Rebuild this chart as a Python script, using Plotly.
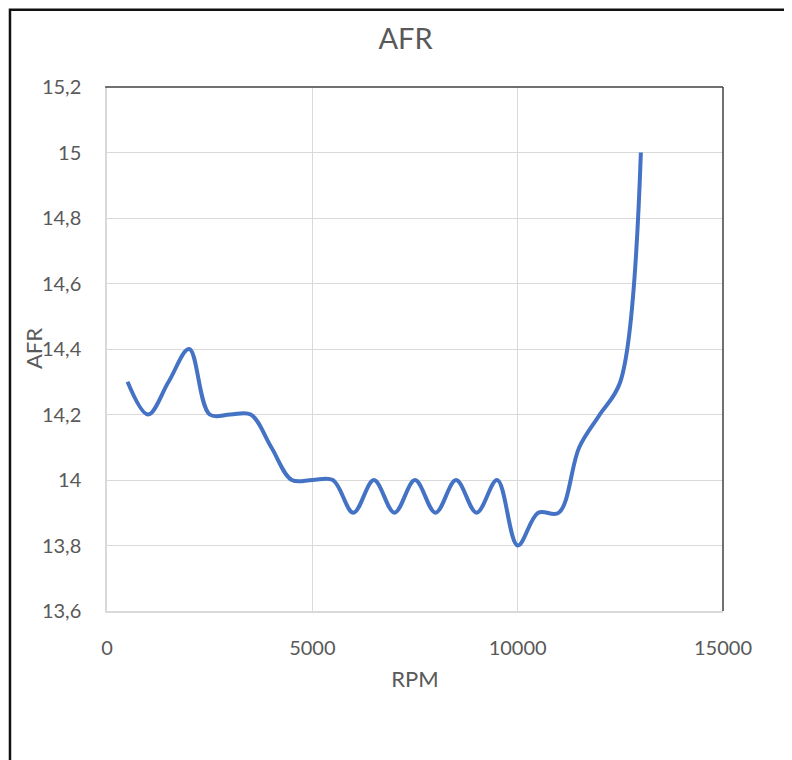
import plotly.graph_objects as go

rpm = [500, 1000, 1500, 2000, 2500, 3000, 3500, 4000, 4500, 5000, 5500, 6000, 6500,
       7000, 7500, 8000, 8500, 9000, 9500, 10000, 10500, 11000, 11500, 12000, 12500, 13000]
afr = [14.3, 14.2, 14.3, 14.4, 14.2, 14.2, 14.2, 14.1, 14.0, 14.0, 14.0, 13.9, 14.0,
       13.9, 14.0, 13.9, 14.0, 13.9, 14.0, 13.8, 13.9, 13.9, 14.1, 14.2, 14.3, 15.0]

x_tick_vals = [0, 5000, 10000, 15000]
x_tick_text = ["0", "5000", "10000", "15000"]
y_tick_vals = [13.6, 13.8, 14.0, 14.2, 14.4, 14.6, 14.8, 15.0, 15.2]
y_tick_text = ["13,6", "13,8", "14", "14,2", "14,4", "14,6", "14,8", "15", "15,2"]

TXT = "#595959"
GRID = "#d9d9d9"
FONT = "Lato"

fig = go.Figure()
fig.add_trace(go.Scatter(
    x=rpm, y=afr, mode="lines",
    line=dict(color="#4472C4", width=4, shape="spline", smoothing=1.0),
    showlegend=False, hoverinfo="x+y",
))

fig.update_layout(
    width=784, height=752,
    margin=dict(l=99, r=69, t=79, b=149, autoexpand=False),
    paper_bgcolor="white", plot_bgcolor="white",
    font=dict(family=FONT, color=TXT, size=20),
    title=dict(text="AFR", x=0.507, xanchor="center", y=1 - 31 / 752, yanchor="middle",
               font=dict(family=FONT, size=29, color=TXT)),
    showlegend=False,
)

fig.update_xaxes(
    range=[0, 15000], tickvals=x_tick_vals, ticktext=x_tick_text,
    showgrid=True, gridcolor=GRID, gridwidth=1.3,
    showline=True, linecolor=GRID, linewidth=1.5, zeroline=False,
    ticks="", ticklabelstandoff=18,
    tickfont=dict(family=FONT, size=20, color=TXT),
    title=dict(text="RPM", font=dict(family=FONT, size=22, color=TXT), standoff=14),
)
fig.update_yaxes(
    range=[13.6, 15.2], tickvals=y_tick_vals, ticktext=y_tick_text,
    showgrid=True, gridcolor=GRID, gridwidth=1.3,
    showline=True, linecolor=GRID, linewidth=1.5, zeroline=False,
    ticks="", ticklabelstandoff=20,
    tickfont=dict(family=FONT, size=20, color=TXT),
)

# y-axis title placed so it overlaps tick labels as in the reference
fig.add_annotation(text="AFR", xref="paper", yref="paper", x=-0.120, y=0.5,
                   xanchor="center", yanchor="middle", textangle=-90, showarrow=False,
                   font=dict(family=FONT, size=22, color=TXT))

# plot-area border (top and right, dark)
fig.add_shape(type="line", xref="paper", yref="paper", x0=-0.003, x1=1, y0=1, y1=1,
              line=dict(color="#404040", width=1.5), layer="above")
fig.add_shape(type="line", xref="paper", yref="paper", x0=1, x1=1, y0=0, y1=1,
              line=dict(color="#404040", width=1.5), layer="above")

# outer chart frame (right and bottom edges fall outside the view)
fig.add_shape(type="rect", xref="paper", yref="paper",
              x0=-0.1575, x1=1.3, y0=-0.4, y1=1.1475,
              line=dict(color="#111111", width=2.5), layer="above")

fig.write_html("out.html")
